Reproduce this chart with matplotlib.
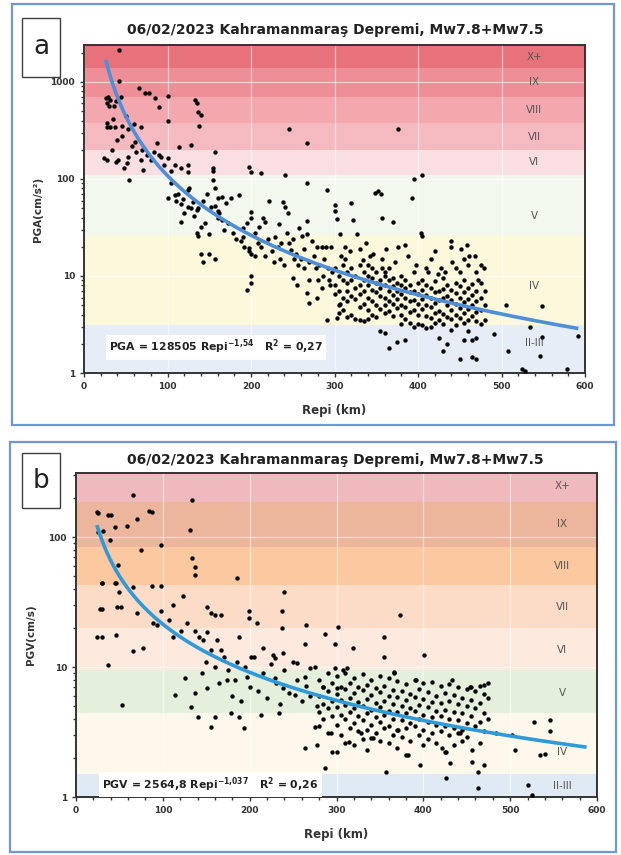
import matplotlib
matplotlib.use("Agg")
import matplotlib.pyplot as plt
import numpy as np
from matplotlib.patches import Rectangle

plt.rcParams['font.family'] = ['DejaVu Sans']

TITLE = "06/02/2023 Kahramanmaraş Depremi, Mw7.8+Mw7.5"

# ---------------- Panel a : PGA ----------------
pga_r = [42,42,29,31,30,27,26,44,38,36,31,45,28,53,60,68,66,73,78,85,90,100,100,133,135,137,140,138,
         28,38,48,51,53,54,68,71,76,80,90,92,100,109,116,124,124,128,88,61,114,155,155,157,198,200,212,241,267,267,245,376,
         24,34,40,46,57,62,70,84,96,104,35,50,28,37,41,
         100,109,110,116,118,124,124,126,128,116,135,137,135,137,140,145,150,140,143,150,157,155,157,160,165,157,160,160,165,170,176,186,188,190,190,200,200,198,198,200,205,212,214,217,217,200,222,229,233,236,238,241,244,243,248,251,258,261,263,267,267,273,279,285,290,296,291,300,300,303,306,312,312,320,322,327,331,334,343,348,352,356,357,370,340,357,357,360,376,385,395,405,393,403,405,410,412,424,432,439,439,441,452,455,459,461,468,479,
         104,112,120,130,132,142,147,152,162,168,172,178,182,192,195,205,208,210,220,225,228,232,235,240,246,250,254,256,260,264,270,275,278,282,286,288,292,294,297,
         195,200,255,267,269,279,291,303,306,270,250,280,285,295,
         300,300,300,305,305,305,305,310,310,310,310,315,315,315,315,315,320,320,320,320,325,325,325,325,
         330,330,330,330,330,335,335,335,335,335,340,340,340,340,340,345,345,345,345,345,350,350,350,350,350,
         355,355,355,355,355,360,360,360,360,360,360,365,365,365,365,365,365,370,370,370,370,370,375,375,375,375,375,
         380,380,380,380,380,380,385,385,385,385,385,385,390,390,390,390,390,395,395,395,395,395,400,400,400,400,400,
         405,405,405,405,405,410,410,410,410,410,415,415,415,415,415,420,420,420,420,420,425,425,425,425,425,
         430,430,430,430,430,430,435,435,435,435,435,440,440,440,440,440,445,445,445,445,445,450,450,450,450,450,
         455,455,455,455,455,455,460,460,460,460,460,465,465,465,465,465,465,470,470,470,470,470,470,475,475,475,475,480,480,480,
         308,318,338,346,362,372,388,398,415,420,428,445,450,470,475,460,472,
         491,505,508,524,528,534,548,548,546,579,592]
pga_v = [2130,1020,700,650,560,600,680,700,640,560,340,350,380,330,370,345,870,770,770,680,550,720,400,650,600,490,460,350,
         157,150,130,145,170,98,157,124,176,157,176,170,165,140,130,118,140,225,235,240,215,130,120,190,133,118,115,110,235,91,330,330,
         165,200,250,280,220,190,200,190,140,120,420,450,340,340,157,
         63,68,60,55,62,77,52,80,50,36,48,50,28,26,32,35,27,17,14,17,15,98,80,63,65,53,47,40,38,57,63,68,23,25,31,46,40,19.5,18,17,16,20,40,36,16,10,60,25,34,22,58,52,45,28,18.5,15,31,26,19,37,27,23,20,20,20,20,77,54,47,39,27,20,15,57,38,27,19,14.5,16,72,75,70,40,36,13,15,12,11,20,21,100,110,63,28,26,12,11,10.5,11,23,20,14,19,15,21,16,16,12,
         90,70,45,58,42,60,70,52,45,30,35,28,24,20,35,28,22,32,24,18,14,20,15,13,22,24,17,13,15,12,14,16,12,13,10,15,12,9,11,
         7.2,8.5,8,6.7,5.3,6,3.5,3.7,5.2,9,9.5,9,7.5,8,
         12,8,6.5,10,7,5,4.2,13,9,6,4.5,11,8.5,7,5.5,3.8,12,9,6.2,4.0,10,7.5,5.8,3.6,
         13,8,6.5,4.8,3.5,11,9,7,5.2,3.4,10,8,6,4.5,3.6,12,9.5,7.2,5.5,4.0,11,8.5,6.8,5.0,3.8,
         9,7.5,6.2,4.6,2.7,10,8,6,5,4.2,2.6,12,9,7,5.5,4.4,1.8,9.5,7.8,6.3,5.2,3.9,8.5,7,5.8,4.7,2.1,
         10,8,6.5,5,4.0,3.2,9,7.5,6,4.8,3.6,2.2,8,6.8,5.5,4.3,3.3,11,7,5.7,4.5,3.0,8.5,6.5,5.2,4.0,3.2,
         9,7.2,5.8,4.6,3.1,8,6.3,5,3.9,2.9,7.5,6,4.8,3.7,3.0,8.8,6.8,5.3,4.2,3.3,7,5.6,4.4,3.5,2.3,
         9.5,7.4,5.9,4.1,3.2,1.7,8,6.2,5,3.8,2.0,7.2,5.7,4.5,3.6,2.8,8.5,6.6,5.2,4.0,3.1,7.8,6,4.7,3.7,1.4,
         9,6.9,5.4,4.2,3.3,2.2,7.5,5.8,4.6,3.5,2.7,8.2,6.4,5,3.9,2.2,1.45,7,5.5,4.3,3.4,2.3,1.4,8.5,6,4.5,3.2,7,5,3.5,
         16,18,22,17,19,14,16,13,15,18,12,12,11,11,13,13,9,
         2.5,5,1.7,1.1,1.05,3.0,4.9,2.35,1.5,1.1,2.4]

# power trend line as drawn in the picture (coefficients)
pga_fit_a, pga_fit_b = 1.3e6, -2.04
pga_fit_range = (26, 592)

pga_band_edges = [1, 3.1, 26.5, 110, 199, 378, 700, 1390, 2405]
pga_band_labels = ["II-III", "IV", "V", "VI", "VII", "VIII", "IX", "X+"]
pga_band_colors = ["#e7edf6", "#fbf8dc", "#f3f8ef", "#f9dfe2", "#f4bac0", "#f3a7ae", "#ee8e96", "#e8727b"]
pga_label_y = [2.04, 7.9, 41.6, 150, 270, 510, 990, 1830]

# ---------------- Panel b : PGV ----------------
pgv_r = [66,134,25,40,84,88,70,59,45,25,31,131,39,75,98,134,137,24,37,48,30,45,28,47,24,
         30,46,50,66,87,98,137,185,30,52,70,98,112,123,89,93,107,112,121,128,137,151,156,160,167,142,146,151,156,162,167,188,
         199,199,208,202,215,227,229,238,240,237,237,255,264,265,270,287,298,302,298,319,355,355,366,373,401,
         30,46,37,66,77,
         126,114,137,151,174,183,197,229,238,252,264,285,301,307,312,366,392,433,454,470,
         53,133,140,156,160,179,188,193,213,234,264,277,275,287,294,300,314,328,342,357,371,382,396,422,426,426,431,442,456,456,463,463,470,484,502,505,520,525,527,534,540,546,546,
         145,150,160,165,170,175,180,185,190,195,200,205,210,215,220,225,230,235,240,245,250,255,260,265,270,275,278,
         280,280,280,280,285,285,285,290,290,290,290,295,295,295,295,300,300,300,300,305,305,305,305,
         310,310,310,310,310,315,315,315,315,320,320,320,320,320,325,325,325,325,330,330,330,330,330,
         335,335,335,335,335,340,340,340,340,340,345,345,345,345,350,350,350,350,350,355,355,355,355,
         360,360,360,360,360,365,365,365,365,370,370,370,370,370,375,375,375,375,380,380,380,380,380,
         385,385,385,385,390,390,390,390,395,395,395,395,400,400,400,400,400,405,405,405,405,
         410,410,410,410,415,415,415,415,420,420,420,420,425,425,425,425,430,430,430,430,
         435,435,435,435,440,440,440,440,445,445,445,445,450,450,450,450,455,455,455,460,460,460,
         465,465,465,465,470,470,470,475,475,475]
pgv_v = [210,192,153,148,158,155,137,121,120,109,111,114,95,80,87,69,59,155,148,61,44,44,28,29,17,
         44,44,38,41,42,42,51,48,28,29,26,27,30,35,22,21,23,17,19,22,19,29,26,25,25,17,16,18.6,13.5,16,13.5,17,
         27,24,22,12,14,12.4,11.7,12.8,38,27,20,10.7,15,21,9.8,18,15,20.4,9.8,14,17,12,9.1,25,12.4,
         17,17.5,10.4,13.3,14,
         8.2,6.1,6.3,6.9,7.9,7.9,8.4,8.2,6.9,6.1,8.4,7.0,6.9,9.5,9.8,9,7.9,7.9,7,7.3,
         5.1,4.9,4.1,3.45,4.1,4.4,4.1,3.4,4.3,4.4,2.38,2.5,3.45,1.67,3.1,2.2,2.65,3.1,2.85,1.56,3.3,2.1,1.76,2.38,2.2,1.4,1.83,3.1,2.3,1.86,1.17,1.56,1.76,3.1,3.0,2.3,1.24,1.03,3.8,2.1,2.15,3.9,3.2,
         9,11,10,7.5,12,9.5,6,11,5.5,10,7,12,6.5,9,5.8,10.5,7.5,5.2,9.5,6.3,11,8,5.5,7.2,6,10,5,
         8,6,4.5,3.5,7,5.2,4.0,9,6.5,4.8,3.1,7.5,5.5,4.2,2.2,8.5,6.2,4.9,3.6,7,5.6,4.3,3.0,
         9,6.8,5.1,4.0,2.6,7.6,5.8,4.5,3.4,8.2,6.3,4.8,3.7,2.5,7,5.4,4.2,3.2,8.8,6.6,5.0,3.9,2.8,
         7.3,5.7,4.4,3.3,2.3,8,6.1,4.7,3.6,2.85,6.9,5.3,4.1,3.1,8.6,6.4,4.9,3.8,2.7,7.2,5.5,4.3,3.4,
         8.3,6.0,4.6,3.5,2.6,6.7,5.2,4.0,3.0,7.8,5.9,4.5,3.3,2.4,6.5,5.0,3.9,2.9,7.4,5.6,4.4,3.4,2.1,
         6.2,4.8,3.7,2.7,8,5.9,4.6,3.5,6.8,5.1,4.0,3.0,7.5,5.7,4.3,3.3,2.5,6.4,4.9,3.8,2.8,
         7.7,5.4,4.1,3.1,6.0,4.6,3.6,2.6,7.1,5.3,4.2,3.2,6.3,4.7,3.5,2.2,7.4,5.5,4.0,3.0,
         6.1,4.5,3.4,2.5,7.0,5.2,3.9,3.1,5.8,4.4,3.3,2.7,6.8,5.0,3.7,2.9,7,5.6,4.2,6.5,4.8,3.5,
         7.2,5.3,3.8,2.6,6.2,4.4,3.2,7.5,5.8,4.0]

pgv_fit_a, pgv_fit_b = 6160.0, -1.23
pgv_fit_range = (24, 588)

pgv_band_edges = [1, 1.5, 4.4, 9.5, 20, 42.7, 84, 186, 311]
pgv_band_labels = ["II-III", "IV", "V", "VI", "VII", "VIII", "IX", "X+"]
pgv_band_colors = ["#dfeaf4", "#fdf8eb", "#e5f0dc", "#fde9de", "#fcdcc6", "#fbc8a0", "#ebb69c", "#f0b9bd"]
pgv_label_y = [1.22, 2.2, 6.3, 13.5, 29, 60, 125, 245]

W, H = 621, 855
fig = plt.figure(figsize=(W / 100, H / 100), dpi=100)
fig.patch.set_facecolor("white")


def fx(px):
    return px / W


def fy(py):
    return 1 - py / H


def panel(ax_box, r, v, fit_a, fit_b, fit_range, edges, labels, colors, label_x, label_ys, ylabel, ylabelpad,
          eq_main, eq_exp, eq_r2, eq_pos, letter, letter_box, frame_box, title_y, curve_color):
    # outer blue frame
    x0, y0, x1, y1 = frame_box
    fig.patches.append(Rectangle((fx(x0), fy(y1)), fx(x1 - x0), (y1 - y0) / H, transform=fig.transFigure,
                                 fill=False, edgecolor="#6f97d8", linewidth=1.6))
    # letter box
    lx0, ly0, lx1, ly1 = letter_box
    fig.patches.append(Rectangle((fx(lx0), fy(ly1)), fx(lx1 - lx0), (ly1 - ly0) / H, transform=fig.transFigure,
                                 fill=True, facecolor="white", edgecolor="#404040", linewidth=1.0))
    fig.text(fx((lx0 + lx1) / 2), fy((ly0 + ly1) / 2), letter, ha="center", va="center", fontsize=19,
             color="#222222")
    ax = fig.add_axes(ax_box)
    ymax = edges[-1]
    ax.set_yscale("log")
    ax.set_xlim(0, 600)
    ax.set_ylim(1, ymax)
    for i in range(len(labels)):
        ax.axhspan(edges[i], edges[i + 1], color=colors[i], lw=0, zorder=0)
        ax.text(label_x, label_ys[i], labels[i], ha="center", va="center", fontsize=7.5, color="#555555", zorder=3)
    ax.grid(True, which="major", color="white", alpha=0.55, lw=0.9, zorder=1)
    ax.set_axisbelow(True)
    ax.scatter(r, v, s=10, color="black", zorder=4, linewidths=0)
    rr = np.linspace(fit_range[0], fit_range[1], 300)
    ax.plot(rr, fit_a * rr ** fit_b, color=curve_color, lw=2.6, zorder=5, solid_capstyle="butt")
    ax.set_xticks([0, 100, 200, 300, 400, 500, 600])
    ax.set_xticks(np.arange(0, 601, 20), minor=True)
    ax.tick_params(axis="both", which="major", labelsize=6.5, length=3, width=1, color="#333333",
                   labelcolor="#333333")
    ax.tick_params(axis="both", which="minor", length=2, width=1, color="#333333")
    ax.yaxis.set_major_formatter(matplotlib.ticker.FuncFormatter(lambda y, p: f"{y:g}"))
    ax.yaxis.set_minor_formatter(matplotlib.ticker.NullFormatter())
    for lab in ax.get_xticklabels() + ax.get_yticklabels():
        lab.set_fontweight("bold")
    for s in ax.spines.values():
        s.set_color("#333333")
        s.set_linewidth(1.4)
    ax.set_xlabel("Repi (km)", fontsize=8.5, fontweight="bold", color="#333333", labelpad=9)
    ax.set_ylabel(ylabel, fontsize=7.5, fontweight="bold", color="#333333", labelpad=ylabelpad)
    fig.text(fx(335), fy(title_y), TITLE, ha="center", va="center", fontsize=10, fontweight="bold",
             color="#222222")
    tx, ty = eq_pos
    ax.text(tx, ty, eq_main + "$^{\\mathbf{" + eq_exp + "}}$   R$^{\\mathbf{2}}$ = " + eq_r2,
            fontsize=7.8, fontweight="bold", color="#222222", ha="left", va="center", zorder=6,
            bbox=dict(boxstyle="square,pad=0.3", facecolor="white", edgecolor="none"))
    return ax


panel([fx(84), fy(373), fx(585) - fx(84), (373 - 45) / H], pga_r, pga_v, pga_fit_a, pga_fit_b,
      pga_fit_range, pga_band_edges, pga_band_labels, pga_band_colors, 539, pga_label_y, "PGA(cm/s²)", 5,
      "PGA = 128505 Repi", "-1{,}54", "0,27", (30, 1.85), "a", (22, 18, 60, 77), (12, 4, 614, 425), 30,
      "#4f8fd8")

panel([fx(76), fy(797), fx(597) - fx(76), (797 - 473) / H], pgv_r, pgv_v, pgv_fit_a, pgv_fit_b,
      pgv_fit_range, pgv_band_edges, pgv_band_labels, pgv_band_colors, 560, pgv_label_y, "PGV(cm/s)", 9,
      "PGV = 2564,8 Repi", "-1{,}037", "0,26", (30, 1.24), "b", (22, 453, 60, 508), (10, 442, 616, 852), 460,
      "#2f9ad8")

fig.savefig("out.png", dpi=100, facecolor="white")
